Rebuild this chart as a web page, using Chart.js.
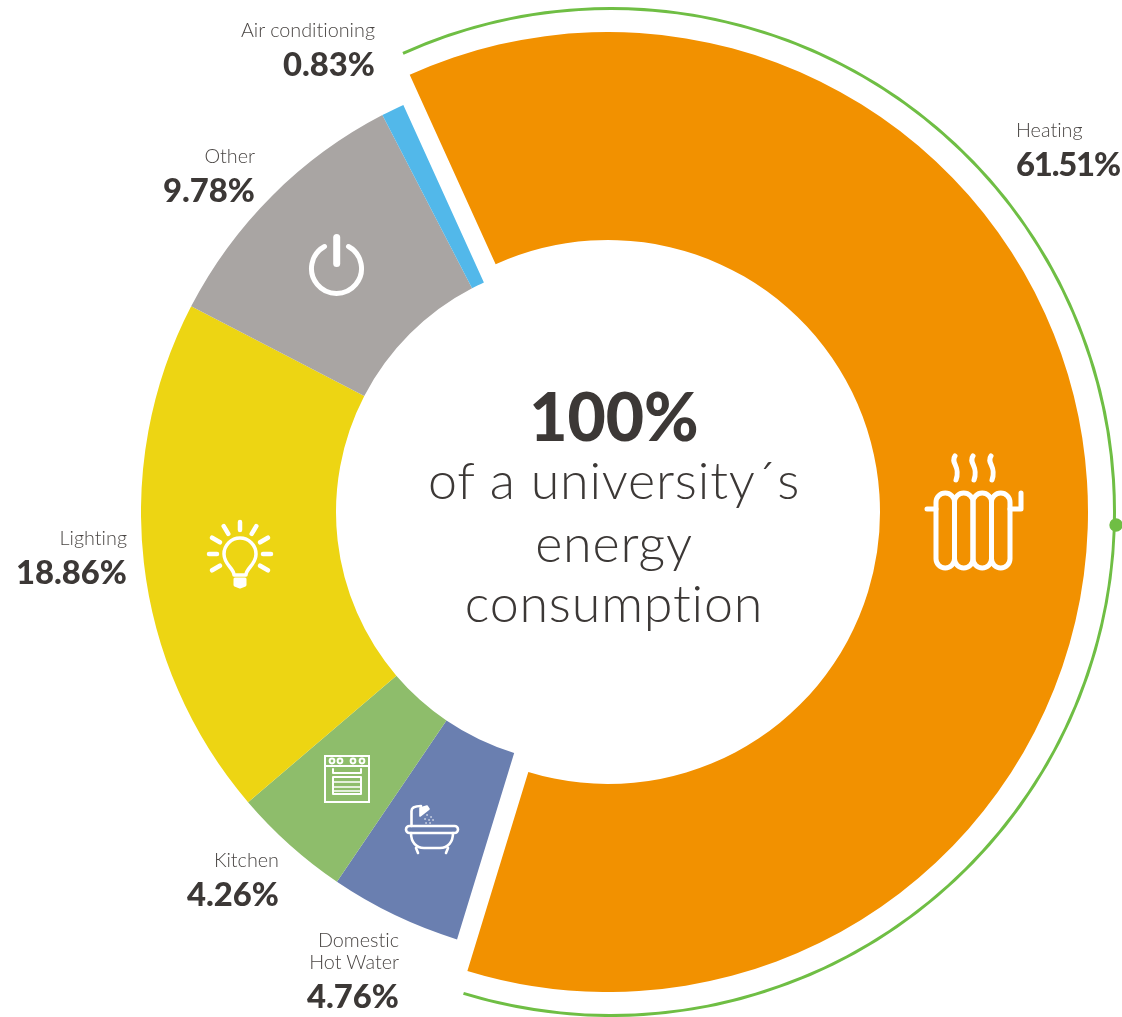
<!DOCTYPE html>
<html>
<head>
<meta charset="utf-8">
<title>University energy consumption</title>
<script src="https://cdn.jsdelivr.net/npm/chart.js@4"></script>
<style>
  html, body { margin: 0; padding: 0; background: #fff; }
  #stage { position: relative; width: 1122px; height: 1017px; overflow: hidden; font-family: "Lato", sans-serif; color: #3c3836; font-variant-ligatures: none; }
  #stage canvas { position: absolute; }
  #icons { position: absolute; left: 0; top: 0; }
  .name, .pct, .center { position: absolute; white-space: nowrap; }
  .name { font-size: 19.8px; font-weight: 300; line-height: 22px; color: #4a4644; }
  .pct { font-size: 32.8px; font-weight: 900; line-height: 36px; }
  .pct.tight { letter-spacing: -1.2px; }
  .center { left: 364px; width: 500px; text-align: center; font-weight: 300; font-size: 52px; line-height: 62px; letter-spacing: 0.8px; }
  .center.big { font-size: 66px; font-weight: 900; letter-spacing: 0; }
</style>
</head>
<body>
<div id="stage">
  <svg id="icons" width="1122" height="1017" fill="none" stroke="#fff" stroke-linecap="round" stroke-linejoin="round">
    <!-- radiator -->
    <g stroke-width="5">
      <rect x="936" y="493" width="18.5" height="75" rx="9.2"/>
      <rect x="954.5" y="493" width="18.5" height="75" rx="9.2"/>
      <rect x="973" y="493" width="18.5" height="75" rx="9.2"/>
      <rect x="991.5" y="493" width="18.5" height="75" rx="9.2"/>
      <path d="M927 509H936M1010 509H1021V493"/>
      <path d="M955 456c-5 7 6 10 1 24M973 456c-5 7 6 10 1 24M991 456c-5 7 6 10 1 24"/>
    </g>
    <!-- power -->
    <path d="M324.5 246.5A25 25 0 1 0 348.5 246.5" stroke-width="5"/>
    <path d="M336.7 237.5V263.5" stroke-width="7"/>
    <!-- bulb -->
    <g stroke-width="4.5">
      <path d="M234 575C234 568 224 565 224 554A16 16 0 1 1 256 554C256 565 246 568 246 575Z" stroke-width="3.5"/>
      <path d="M240 522V530M223.7 526.1L228.3 533.9M256.3 526.1L251.7 533.9M212.1 537.7L219.9 542.3M267.9 537.7L260.1 542.3M209 554H217M263 554H271M212.1 570.3L219.9 565.7M267.9 570.3L260.1 565.7"/>
      <path d="M235 579H245V585L240 587L235 585Z" fill="#fff" stroke-width="3"/>
    </g>
    <!-- oven -->
    <g stroke-width="2">
      <rect x="325" y="756" width="44" height="46" stroke-linejoin="miter"/>
      <path d="M325 766H369M333 769V773H361V769"/>
      <circle cx="332" cy="761" r="2.4"/><circle cx="340" cy="761" r="2.4"/>
      <circle cx="353" cy="761" r="2.4"/><circle cx="362" cy="761" r="2.4"/>
      <rect x="333" y="777" width="28" height="17"/>
      <path d="M333 782H361M333 787H361M333 791H361" stroke-width="1.5"/>
    </g>
    <!-- bath -->
    <g stroke-width="2.6">
      <rect x="406" y="826" width="52" height="7" rx="3.5"/>
      <path d="M411 833C411 842 416 848 424 848H440C448 848 453 842 453 833"/>
      <path d="M416 848L418 853M448 848L446 853"/>
      <path d="M411.5 826V811C411.5 807 415 806 421 806"/>
      <path d="M420 808L427 806L429 809L420 816Z" fill="#fff" stroke-width="1.6"/>
      <path d="M427 815h.1M431 817h.1M425 819h.1M429 820h.1M433 820h.1M426 823h.1M430 823h.1" stroke-width="1.5"/>
    </g>
    <circle cx="1116" cy="525" r="6.7" fill="#6fbe44" stroke="none"/>
  </svg>
</div>

<script>
const categories = ["Heating", "Domestic Hot Water", "Kitchen", "Lighting", "Other", "Air conditioning"];
const shares = [61.51, 4.76, 4.26, 18.86, 9.78, 0.83];
const sliceColors = ["#f29100", "#6a7fb0", "#8ebd6b", "#edd513", "#a9a5a3", "#52b8ea"];
const firstAngle = -24.4;

// label anchors: [x, y of first line, align]
const labelSpots = [
  [1016, 118, "left"],
  [399, 928, "right"],
  [279, 848, "right"],
  [127, 526, "right"],
  [255, 144, "right"],
  [375, 18, "right"]
];
const nameLines = [["Heating"], ["Domestic", "Hot Water"], ["Kitchen"], ["Lighting"], ["Other"], ["Air conditioning"]];
const centerLines = ["100%", "of a university´s", "energy", "consumption"];
const centerTops = [385, 448, 511, 571];

const stage = document.getElementById("stage");
const icons = document.getElementById("icons");
const none = "rgba(0,0,0,0)";

function drawRing(cx, cy, outer, inner, colors, values) {
  const canvas = document.createElement("canvas");
  canvas.style.left = (cx - outer) + "px";
  canvas.style.top = (cy - outer) + "px";
  canvas.width = outer * 2;
  canvas.height = outer * 2;
  stage.insertBefore(canvas, icons);

  return new Chart(canvas, {
    type: "doughnut",
    data: {
      labels: categories,
      datasets: [{ data: values, backgroundColor: colors, borderWidth: 0 }]
    },
    options: {
      responsive: false,
      animation: false,
      events: [],
      rotation: firstAngle,
      cutout: (inner / outer * 100) + "%",
      plugins: { legend: { display: false }, tooltip: { enabled: false } }
    }
  });
}

// thin green arc behind the heating slice
drawRing(611, 512, 505, 502, sliceColors.map((c, i) => i === 0 ? "#6fbe44" : none), shares);
// heating sits on a bigger ring than the others
drawRing(608, 512, 480, 272, sliceColors.map((c, i) => i === 0 ? c : none), shares);
drawRing(588, 512, 447, 252, sliceColors.map((c, i) => i === 0 ? none : c), shares);

function addText(cls, text, x, y, align) {
  const el = document.createElement("div");
  el.className = cls;
  el.textContent = text;
  el.style.top = y + "px";
  if (align === "right") el.style.right = (1122 - x) + "px";
  else el.style.left = x + "px";
  stage.appendChild(el);
}

categories.forEach((c, i) => {
  const [x, y, align] = labelSpots[i];
  nameLines[i].forEach((line, n) => addText("name", line, x, y + n * 22, align));
  // the heating figure has to stop at the page edge
  addText(i === 0 ? "pct tight" : "pct", shares[i].toFixed(2) + "%", x, y + nameLines[i].length * 22 + 6, align);
});

centerLines.forEach((line, i) => {
  const el = document.createElement("div");
  el.className = i === 0 ? "center big" : "center";
  el.textContent = line;
  el.style.top = centerTops[i] + "px";
  stage.appendChild(el);
});
</script>
</body>
</html>
